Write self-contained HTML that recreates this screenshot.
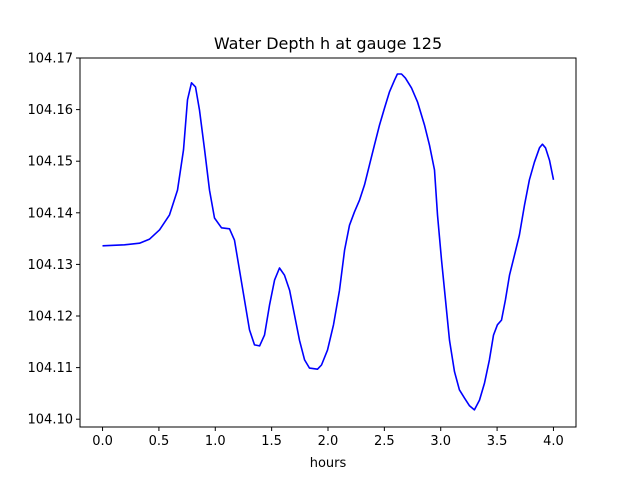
<!DOCTYPE html>
<html><head><meta charset="utf-8"><style>
body{margin:0;background:#fff;}
svg{display:block;font-family:"DejaVu Sans","Liberation Sans",sans-serif;}
</style></head><body>
<svg id="chart" width="640" height="480">
<rect width="640" height="480" fill="#fff"/>
<text x="328" y="49" text-anchor="middle" font-size="16">Water Depth h at gauge 125</text>
<g id="plot"></g>
<rect x="80" y="58" width="496" height="369" fill="none" stroke="#000" stroke-width="1"/>
<text x="328" y="467" text-anchor="middle" font-size="13">hours</text>
</svg>
<script>
const hours=[0,.195,.328,.417,.506,.594,.665,.718,.754,.789,.825,.860,.905,.949,.993,1.055,1.126,1.171,1.215,1.259,1.304,1.348,1.393,1.437,1.481,1.526,1.570,1.614,1.659,1.703,1.747,1.792,1.836,1.907,1.942,1.996,2.049,2.102,2.147,2.191,2.235,2.280,2.324,2.368,2.412,2.457,2.501,2.545,2.590,2.616,2.652,2.687,2.741,2.794,2.856,2.900,2.945,2.971,3.007,3.042,3.078,3.122,3.166,3.211,3.255,3.299,3.344,3.388,3.432,3.468,3.503,3.539,3.574,3.610,3.654,3.698,3.743,3.787,3.831,3.876,3.902,3.929,3.965,4.0];
const depth=[104.1336,104.1338,104.1341,104.1349,104.1367,104.1396,104.1444,104.1522,104.1619,104.1652,104.1644,104.1599,104.1522,104.1444,104.1390,104.1371,104.1369,104.1347,104.1289,104.1231,104.1173,104.1144,104.1142,104.1163,104.1221,104.1270,104.1293,104.1279,104.1250,104.1202,104.1153,104.1115,104.1099,104.1097,104.1105,104.1134,104.1183,104.1250,104.1328,104.1376,104.1402,104.1425,104.1454,104.1493,104.1531,104.1570,104.1603,104.1634,104.1657,104.1669,104.1669,104.1661,104.1642,104.1615,104.1570,104.1531,104.1483,104.1396,104.1309,104.1231,104.1153,104.1092,104.1057,104.1041,104.1026,104.1018,104.1037,104.1070,104.1115,104.1163,104.1183,104.1192,104.1231,104.1279,104.1318,104.1357,104.1415,104.1464,104.1498,104.1526,104.1533,104.1526,104.1502,104.1464];
const xTicks=[0,0.5,1,1.5,2,2.5,3,3.5,4];
const xTickLabels=["0.0","0.5","1.0","1.5","2.0","2.5","3.0","3.5","4.0"];
const yTicks=[104.10,104.11,104.12,104.13,104.14,104.15,104.16,104.17];
const yTickLabels=["104.10","104.11","104.12","104.13","104.14","104.15","104.16","104.17"];
const X0=80,X1=576,Y0=427,Y1=58;
const xMin=-0.2,xMax=4.2,yMin=104.09849,yMax=104.17;
const xs=v=>X0+(v-xMin)/(xMax-xMin)*(X1-X0);
const ys=v=>Y0-(v-yMin)/(yMax-yMin)*(Y0-Y1);
const NS="http://www.w3.org/2000/svg";
const g=document.getElementById('plot');
function mk(t,a){const e=document.createElementNS(NS,t);for(const k in a)e.setAttribute(k,a[k]);g.appendChild(e);return e;}
xTicks.forEach((t,i)=>{
  const l=mk('line',{x1:xs(t),x2:xs(t),y1:Y0,y2:Y0+4,stroke:'#000'});
  
  
  const tx=mk('text',{x:xs(t),y:Y0+18,'text-anchor':'middle','font-size':'13'});
  tx.textContent=xTickLabels[i];
  
  
});
yTicks.forEach((t,i)=>{
  const l=mk('line',{x1:X0-4,x2:X0,y1:ys(t),y2:ys(t),stroke:'#000'});
  
  
  const tx=mk('text',{x:X0-7,y:ys(t)+4.5,'text-anchor':'end','font-size':'13'});
  tx.textContent=yTickLabels[i];
  
  
});
const pts=hours.map((h,i)=>xs(h).toFixed(1)+','+ys(depth[i]).toFixed(1)).join(' ');
const pl=mk('polyline',{points:pts,fill:'none',stroke:'#0000ff','stroke-width':'1.6','stroke-linejoin':'round'});


</script>
</body></html>
